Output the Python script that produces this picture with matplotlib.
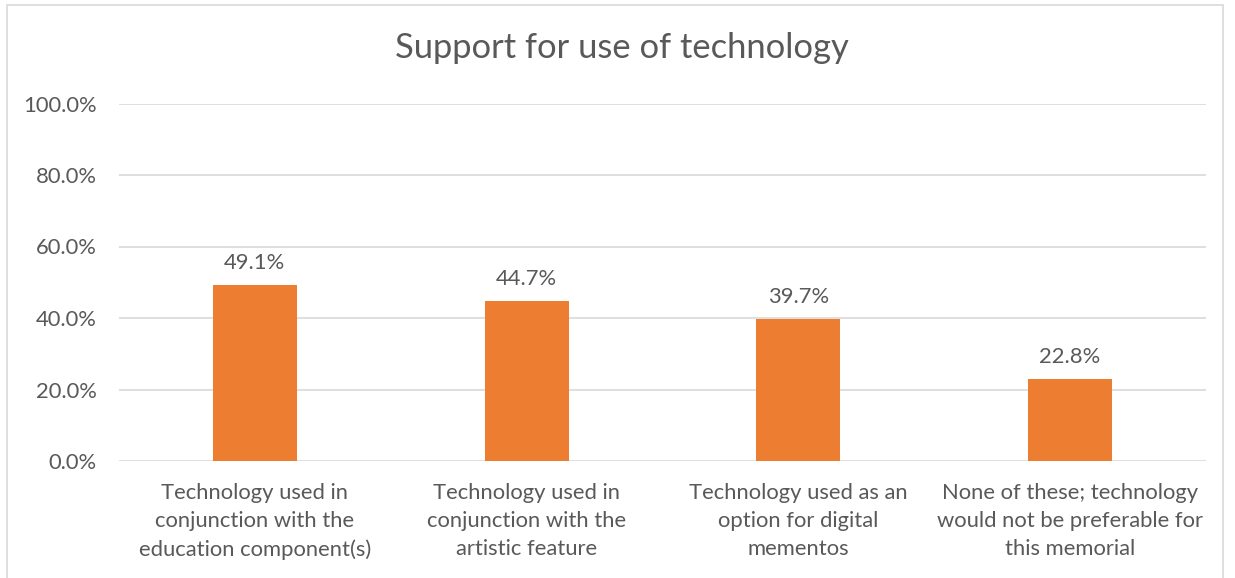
import matplotlib
matplotlib.use("Agg")
import matplotlib.pyplot as plt
from matplotlib.patches import Rectangle
from matplotlib.ticker import FuncFormatter

categories = [
    "Technology used in\nconjunction with the\neducation component(s)",
    "Technology used in\nconjunction with the\nartistic feature",
    "Technology used as an\noption for digital\nmementos",
    "None of these; technology\nwould not be preferable for\nthis memorial",
]
values = [49.1, 44.7, 39.7, 22.8]
labels = ["49.1%", "44.7%", "39.7%", "22.8%"]
yticks = [0, 20, 40, 60, 80, 100]

plt.rcParams['font.family'] = ['Lato', 'DejaVu Sans']
text_color = "#595959"
grid_color = "#D9D9D9"
bar_color = "#ED7D31"

fig = plt.figure(figsize=(12.35, 5.78), dpi=100)
fig.patch.set_facecolor("white")
border = Rectangle((7/1235, -0.05), (1223-7)/1235, 1 - 5/578 + 0.05,
                   transform=fig.transFigure, fill=False, edgecolor=grid_color,
                   linewidth=1.2)
fig.add_artist(border)

ax = fig.add_axes([119/1235, 1 - 461/578, (1206-119)/1235, (461-103.5)/578])
x = list(range(len(categories)))
ax.bar(x, values, width=0.31, color=bar_color, zorder=3)
ax.set_xlim(-0.5, len(categories) - 0.5)
ax.set_ylim(0, 100)
ax.set_yticks(yticks)
ax.yaxis.set_major_formatter(FuncFormatter(lambda v, p: f"{v:.1f}%"))
ax.grid(axis='y', color=grid_color, linewidth=1.2, zorder=0)
for s in ax.spines.values():
    s.set_visible(False)
ax.tick_params(axis='both', length=0, colors=text_color, labelsize=15.8)
ax.tick_params(axis='y', pad=16)
ax.tick_params(axis='x', pad=16)
ax.set_xticks(x)
ax.set_xticklabels(categories, linespacing=1.49)
for xi, v, lab in zip(x, values, labels):
    ax.annotate(lab, (xi, v), xytext=(0, 9), textcoords='offset points',
                ha='center', va='bottom', fontsize=15.8, color=text_color)

fig.text(622/1235, 1 - 48/578, "Support for use of technology", ha='center',
         va='center', fontsize=24.8, color=text_color)

fig.savefig("out.png", dpi=100)
